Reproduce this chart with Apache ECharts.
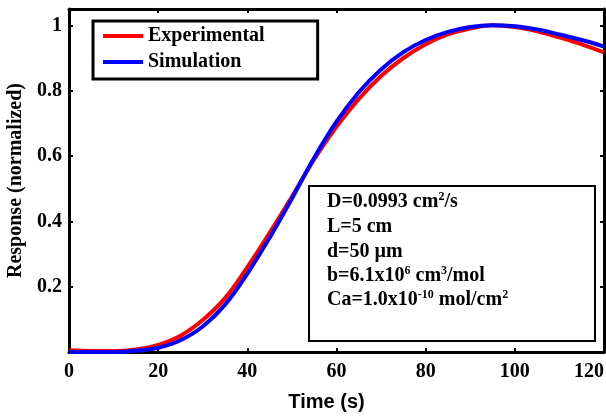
<!DOCTYPE html>
<html>
<head>
<meta charset="utf-8">
<script src="https://cdn.jsdelivr.net/npm/echarts@6/dist/echarts.min.js"></script>
<style>html,body{margin:0;padding:0;background:#fff;}#c{width:606px;height:417px;}</style>
</head>
<body>
<div id="c"></div>
<script>
// ---- data ----
var times = [0,5,10,15,20,25,30,35,40,45,50,55,60,65,70,75,80,85,90,95,100,105,110,115,120];
var experimental = [0.005,0.003,0.003,0.008,0.022,0.05,0.098,0.165,0.26,0.365,0.475,0.59,0.69,0.775,0.845,0.9,0.942,0.972,0.99,1.0,0.995,0.982,0.963,0.942,0.917];
var simulation = [0.0,0.0,0.0,0.004,0.013,0.036,0.078,0.145,0.24,0.35,0.47,0.595,0.705,0.795,0.865,0.918,0.955,0.98,0.995,1.0,0.997,0.987,0.972,0.955,0.935];
var seriesNames = ['Experimental','Simulation'];
var xTicks = [0,20,40,60,80,100,120];
var yTicks = [0.2,0.4,0.6,0.8,1];
var paramLines = [
  '{t|D=0.0993 cm}{s|2}{t|/s}',
  '{t|L=5 cm}',
  '{t|d=50 µm}',
  '{t|b=6.1x10}{s|6}{t| cm}{s|3}{t|/mol}',
  '{t|Ca=1.0x10}{s|-10}{t| mol/cm}{s|2}'
];

function pairs(xs, ys){ return xs.map(function(x,i){ return [x, ys[i]]; }); }

var serif = 'Liberation Serif';

function axisCommon(extra){
  var base = {
    axisLine: {show: true, onZero: false, lineStyle: {color: '#000', width: 3}},
    axisTick: {show: true, inside: true, length: 4, lineStyle: {color: '#000', width: 2}},
    splitLine: {show: false}
  };
  for (var k in extra) base[k] = extra[k];
  return base;
}

var chart = echarts.init(document.getElementById('c'), null, {renderer: 'canvas'});

var rich = {
  t: {fontFamily: serif, fontWeight: 'bold', fontSize: 20, fill: '#000', lineHeight: 22},
  s: {fontFamily: serif, fontWeight: 'bold', fontSize: 12, fill: '#000', verticalAlign: 'top', lineHeight: 22}
};
var lineYs = [202, 227, 252, 276, 300];
var textEls = paramLines.map(function(s, i){
  return {type: 'text', x: 327, y: lineYs[i], style: {text: s, rich: rich, verticalAlign: 'middle', align: 'left'}};
});

chart.setOption({
  animation: false,
  backgroundColor: '#fff',
  grid: {left: 69, right: 2, top: 9, bottom: 65, outerBoundsMode: 'none', containLabel: false},
  legend: {
    left: 93, top: 21, orient: 'vertical',
    data: seriesNames,
    backgroundColor: '#fff',
    borderColor: '#000', borderWidth: 3,
    padding: [5, 53, 7, 10],
    itemWidth: 40, itemHeight: 4, itemGap: 6, itemTextGap: 6,
    icon: 'rect',
    textStyle: {fontFamily: serif, fontWeight: 'bold', fontSize: 20, color: '#000'}
  },
  xAxis: [
    axisCommon({type: 'value', min: 0, max: 120, interval: 20, position: 'bottom',
      axisLabel: {show: true, margin: 10, fontFamily: serif, fontWeight: 'bold', fontSize: 20, color: '#000',
        alignMaxLabel: 'right',
        formatter: function(v){ return xTicks.indexOf(v) >= 0 ? String(v) : ''; }},
      name: 'Time (s)', nameLocation: 'middle', nameGap: 40,
      nameTextStyle: {fontFamily: 'Liberation Sans', fontWeight: 'bold', fontSize: 20, color: '#000', padding: [0, 20, 0, 0]}}),
    axisCommon({type: 'value', min: 0, max: 120, interval: 20, position: 'top', axisLabel: {show: false}})
  ],
  yAxis: [
    axisCommon({type: 'value', min: 0, max: 1.05, interval: 0.2, position: 'left',
      axisLabel: {show: true, margin: 7, fontFamily: serif, fontWeight: 'bold', fontSize: 20, color: '#000',
        formatter: function(v){ for (var i=0;i<yTicks.length;i++){ if (Math.abs(yTicks[i]-v) < 1e-6) return String(yTicks[i]); } return ''; }},
      name: 'Response (normalized)', nameLocation: 'middle', nameGap: 39,
      nameTextStyle: {fontFamily: serif, fontWeight: 'bold', fontSize: 20, color: '#000'}}),
    axisCommon({type: 'value', min: 0, max: 1.05, interval: 0.2, position: 'right', axisLabel: {show: false}})
  ],
  series: [
    {name: seriesNames[0], type: 'line', data: pairs(times, experimental), smooth: 0.4, showSymbol: false,
      lineStyle: {color: '#ff0000', width: 4}, itemStyle: {color: '#ff0000'}, z: 2},
    {name: seriesNames[1], type: 'line', data: pairs(times, simulation), smooth: 0.4, showSymbol: false,
      lineStyle: {color: '#0000ff', width: 4}, itemStyle: {color: '#0000ff'}, z: 3}
  ],
  graphic: [
    {type: 'group', z: 100, children: [
      {type: 'rect', shape: {x: 309, y: 186, width: 286, height: 155}, style: {fill: '#fff', stroke: '#000', lineWidth: 2}}
    ].concat(textEls)}
  ]
});
</script>
</body>
</html>
